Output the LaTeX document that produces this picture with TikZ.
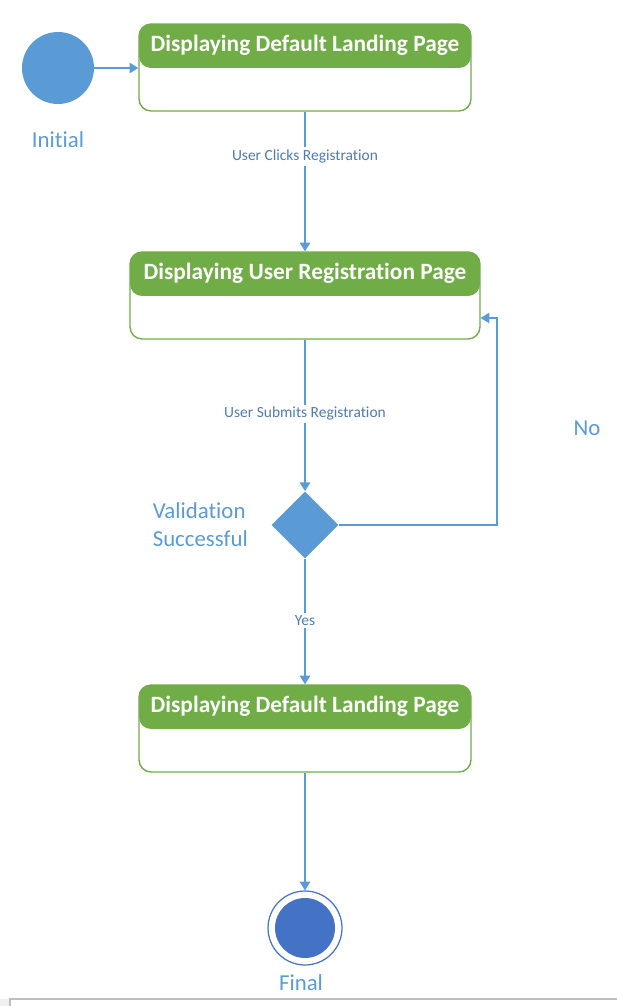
\documentclass[tikz,border=0pt]{standalone}
\usepackage{fontspec}
\setmainfont{Carlito}[Ligatures=NoCommon]
\usetikzlibrary{arrows.meta,positioning,shapes.geometric}

\definecolor{stategreen}{HTML}{70AD47}
\definecolor{flowblue}{HTML}{5B9BD5}
\definecolor{finalblue}{HTML}{4472C4}
\definecolor{labelblue}{HTML}{4F7DB0}
\definecolor{framegrey}{HTML}{BFBFBF}

\tikzset{
  statebox/.style={draw=stategreen, line width=0.8pt, rounded corners=0.24cm,
    fill=white, minimum height=1.74cm, inner sep=0pt,
    path picture={\fill[stategreen] (path picture bounding box.north west)
      rectangle ([yshift=-0.88cm]path picture bounding box.north east);}},
  statetitle/.style={text=white, font=\fontsize{13.3}{15}\selectfont\bfseries, inner sep=0pt},
  flow/.style={draw=flowblue, line width=0.9pt, -{Triangle[width=6pt,length=5pt]}},
  flowlabel/.style={fill=white, text=labelblue, font=\fontsize{8.8}{10}\selectfont, inner sep=1.5pt},
  bigtext/.style={text=flowblue, font=\fontsize{13}{16}\selectfont, inner sep=0pt}
}

\begin{document}
\begin{tikzpicture}[x=0.02cm, y=-0.02cm]
    \useasboundingbox (0,0) rectangle (617,1006);
    % screenshot frame at the bottom
    \fill[black!6] (0,999) rectangle (10,1006);
    \draw[framegrey, line width=1.2pt] (10,1006) -- (10,999) -- (617,999);

    % states
    \node[circle, fill=flowblue, minimum size=1.44cm, inner sep=0pt] (init) at (58,68) {};
    \node[bigtext] (initlbl) at (58,140) {Initial};
    \node[statebox, minimum width=6.64cm] (landing) at (305,67.5) {};
    \node[statetitle] (landingtitle) at ([yshift=-0.44cm]landing.north) {Displaying Default Landing Page};
    \node[statebox, minimum width=7.0cm] (register) at (305,295.5) {};
    \node[statetitle] (registertitle) at ([yshift=-0.44cm]register.north) {Displaying User Registration Page};
    \node[diamond, fill=flowblue, minimum width=1.34cm, minimum height=1.34cm, inner sep=0pt] (valid) at (305,525) {};
    \node[bigtext, align=left, left=0.46cm of valid] (validlbl) {Validation\\Successful};
    \node[bigtext] (nolbl) at (587,428) {No};
    \node[statebox, minimum width=6.64cm] (landing2) at (305,728.5) {};
    \node[statetitle] (landing2title) at ([yshift=-0.44cm]landing2.north) {Displaying Default Landing Page};
    \node[circle, draw=finalblue, line width=0.7pt, minimum size=1.48cm, inner sep=0pt] (final) at (305,928) {};
    \node[circle, fill=finalblue, minimum size=1.2cm, inner sep=0pt] (finaldot) at (final.center) {};
    \node[bigtext] (finallbl) at (301,983) {Final};

    % transitions
    \draw[flow] (init) -- (init -| landing.west);
    \draw[flow] (landing.south) -- node[flowlabel, pos=0.32] {User Clicks Registration} (register.north);
    \draw[flow] (register.south) -- node[flowlabel, pos=0.49] {User Submits Registration} (valid.north);
    \coordinate (noturn) at (497,525);
    \draw[flow] (valid.east) -- (noturn) |- ([yshift=-0.45cm]register.east);
    \draw[flow] (valid.south) -- node[flowlabel, pos=0.49] {Yes} (landing2.north);
    \draw[flow] (landing2.south) -- (final.north);
\end{tikzpicture}
\end{document}
